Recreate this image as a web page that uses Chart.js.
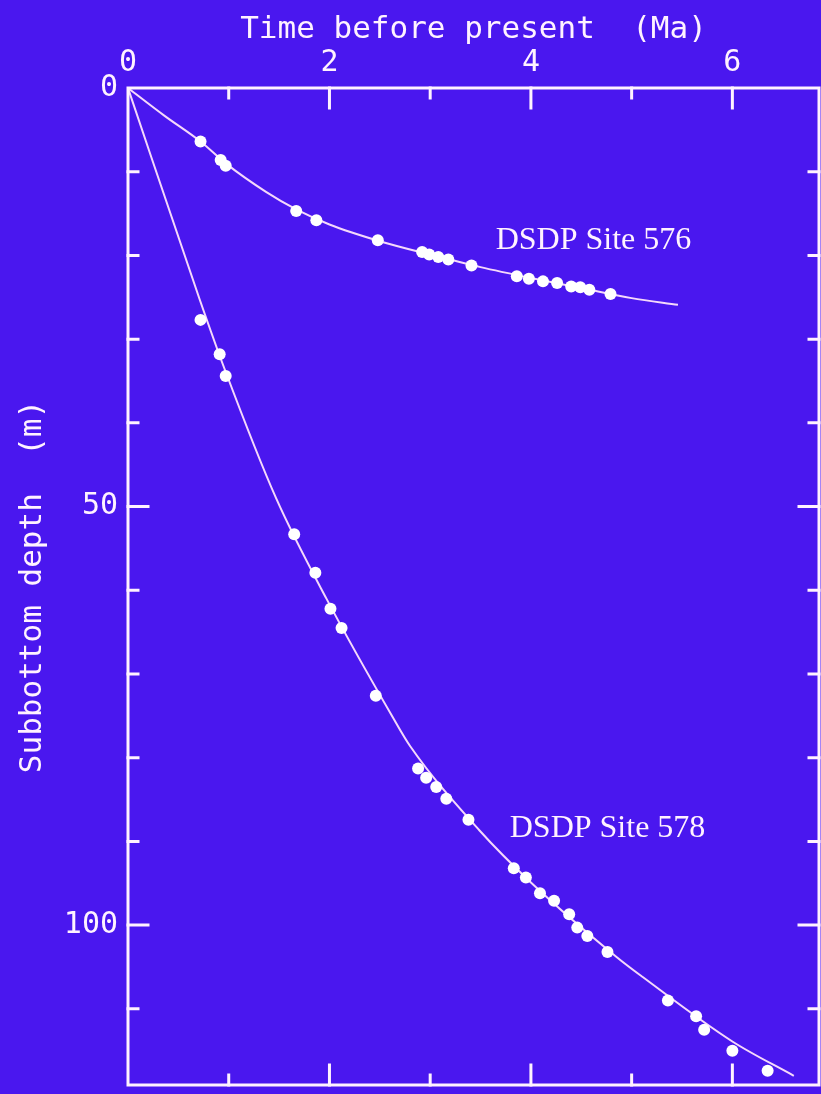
<!DOCTYPE html>
<html>
<head>
<meta charset="utf-8">
<title>Subbottom depth vs time, DSDP Sites 576 and 578</title>
<script src="https://cdn.jsdelivr.net/npm/chart.js@4.4.1/dist/chart.umd.min.js"></script>
<style>
  html, body { margin: 0; padding: 0; background: #4a17ef; }
  canvas { display: block; }
</style>
</head>
<body>
<canvas id="chart" width="821" height="1094"></canvas>
<script>
// datum ages (Ma) and sample depths (m)
const ages576 = [0.72, 0.92, 0.97, 1.67, 1.87, 2.48, 2.92, 2.99, 3.08, 3.18, 3.41, 3.86, 3.98, 4.12, 4.26, 4.40, 4.49, 4.58, 4.79];
const depths576 = [6.4, 8.6, 9.3, 14.7, 15.8, 18.2, 19.6, 19.9, 20.2, 20.5, 21.2, 22.5, 22.8, 23.1, 23.3, 23.7, 23.8, 24.1, 24.6];

const ages578 = [0.72, 0.91, 0.97, 1.65, 1.86, 2.01, 2.12, 2.46, 2.88, 2.96, 3.06, 3.16, 3.38, 3.83, 3.95, 4.09, 4.23, 4.38, 4.46, 4.56, 4.76, 5.36, 5.64, 5.72, 6.00, 6.35];
const depths578 = [27.7, 31.8, 34.4, 53.3, 57.9, 62.2, 64.5, 72.6, 81.3, 82.4, 83.5, 84.9, 87.4, 93.2, 94.3, 96.2, 97.1, 98.7, 100.3, 101.3, 103.2, 109.0, 110.9, 112.5, 115.0, 117.4];

// fitted curves
const curveAge576 = [0, 0.36, 0.72, 0.97, 1.37, 1.67, 2.0, 2.5, 3.0, 3.5, 4.0, 4.5, 5.0, 5.46];
const curveDepth576 = [0, 3.3, 6.4, 9.0, 12.4, 14.5, 16.3, 18.3, 19.9, 21.4, 22.7, 23.9, 25.1, 25.9];

const curveAge578 = [0, 0.71, 0.96, 1.47, 1.97, 2.63, 2.80, 3.49, 4.0, 4.85, 5.11, 6.0, 6.61];
const curveDepth578 = [0, 25.2, 33.6, 49.0, 61.0, 75.2, 78.6, 88.7, 94.9, 103.8, 106.2, 113.9, 118.0];

const timeTicks = [0, 2, 4, 6];
const depthTicks = [0, 50, 100];

const ink = '#fff2ff';
const curveInk = '#f5d9fb';
const monoFont = 'DejaVu Sans Mono';

const toXY = (xs, ys) => xs.map((x, i) => ({ x: x, y: ys[i] }));

// inward tick marks, frame and site labels
const framePlugin = {
  id: 'frame',
  afterDraw(chart) {
    const ctx = chart.ctx;
    const { left, right, top, bottom } = chart.chartArea;
    const xs = chart.scales.x;
    const ys = chart.scales.y;

    ctx.save();
    ctx.strokeStyle = ink;
    ctx.lineWidth = 3;
    ctx.lineCap = 'square';
    ctx.strokeRect(left, top, right - left, bottom - top);

    ctx.beginPath();
    for (let t = 1; t <= xs.max; t++) {
      const px = xs.getPixelForValue(t);
      const len = t % 2 === 0 ? 20 : 10;
      ctx.moveTo(px, top); ctx.lineTo(px, top + len);
      ctx.moveTo(px, bottom); ctx.lineTo(px, bottom - len);
    }
    for (let d = 10; d <= ys.max; d += 10) {
      const py = ys.getPixelForValue(d);
      const len = d % 50 === 0 ? 20 : 10;
      ctx.moveTo(left, py); ctx.lineTo(left + len, py);
      ctx.moveTo(right, py); ctx.lineTo(right - len, py);
    }
    ctx.stroke();

    ctx.fillStyle = ink;
    ctx.font = '32px "Liberation Serif"';
    ctx.textAlign = 'left';
    ctx.textBaseline = 'alphabetic';
    ctx.fillText('DSDP Site 576', xs.getPixelForValue(3.65), ys.getPixelForValue(19.2));
    ctx.fillText('DSDP Site 578', xs.getPixelForValue(3.79), ys.getPixelForValue(89.5));
    ctx.restore();
  }
};

new Chart(document.getElementById('chart'), {
  type: 'scatter',
  data: {
    datasets: [
      {
        label: 'Site 576',
        data: toXY(ages576, depths576),
        backgroundColor: '#ffffff',
        borderWidth: 0,
        pointRadius: 6,
        order: 0
      },
      {
        label: 'Site 578',
        data: toXY(ages578, depths578),
        backgroundColor: '#ffffff',
        borderWidth: 0,
        pointRadius: 6,
        order: 0
      },
      {
        label: 'Fit 576',
        data: toXY(curveAge576, curveDepth576),
        showLine: true,
        borderColor: curveInk,
        borderWidth: 2,
        pointRadius: 0,
        cubicInterpolationMode: 'monotone',
        order: 1
      },
      {
        label: 'Fit 578',
        data: toXY(curveAge578, curveDepth578),
        showLine: true,
        borderColor: curveInk,
        borderWidth: 2,
        pointRadius: 0,
        cubicInterpolationMode: 'monotone',
        order: 1
      }
    ]
  },
  options: {
    responsive: false,
    animation: false,
    layout: { autoPadding: false, padding: { top: 0, left: 0, right: 2, bottom: 9 } },
    plugins: {
      legend: { display: false },
      tooltip: { enabled: false }
    },
    scales: {
      x: {
        type: 'linear',
        position: 'top',
        min: 0,
        max: 6.86,
        afterBuildTicks: (scale) => { scale.ticks = timeTicks.map(v => ({ value: v })); },
        afterFit: (scale) => {
          scale.height = 88;
          scale.paddingLeft = 0;
          scale.paddingRight = 0;
        },
        grid: { display: false, drawTicks: false },
        border: { display: false },
        ticks: {
          color: ink,
          padding: 7,
          maxRotation: 0,
          font: { family: monoFont, size: 30 }
        },
        title: {
          display: true,
          text: 'Time before present  (Ma)',
          color: ink,
          padding: { top: 11, bottom: 0 },
          font: { family: monoFont, size: 31 }
        }
      },
      y: {
        type: 'linear',
        reverse: true,
        min: 0,
        max: 119.1,
        afterBuildTicks: (scale) => { scale.ticks = depthTicks.map(v => ({ value: v })); },
        afterFit: (scale) => {
          scale.width = 128;
          scale.paddingTop = 0;
          scale.paddingBottom = 0;
        },
        grid: { display: false, drawTicks: false },
        border: { display: false },
        ticks: {
          color: ink,
          padding: 10,
          font: { family: monoFont, size: 30 }
        },
        title: {
          display: true,
          text: 'Subbottom depth  (m)',
          color: ink,
          padding: { top: 14, bottom: 0 },
          font: { family: monoFont, size: 31 }
        }
      }
    }
  },
  plugins: [framePlugin]
});
</script>
</body>
</html>
